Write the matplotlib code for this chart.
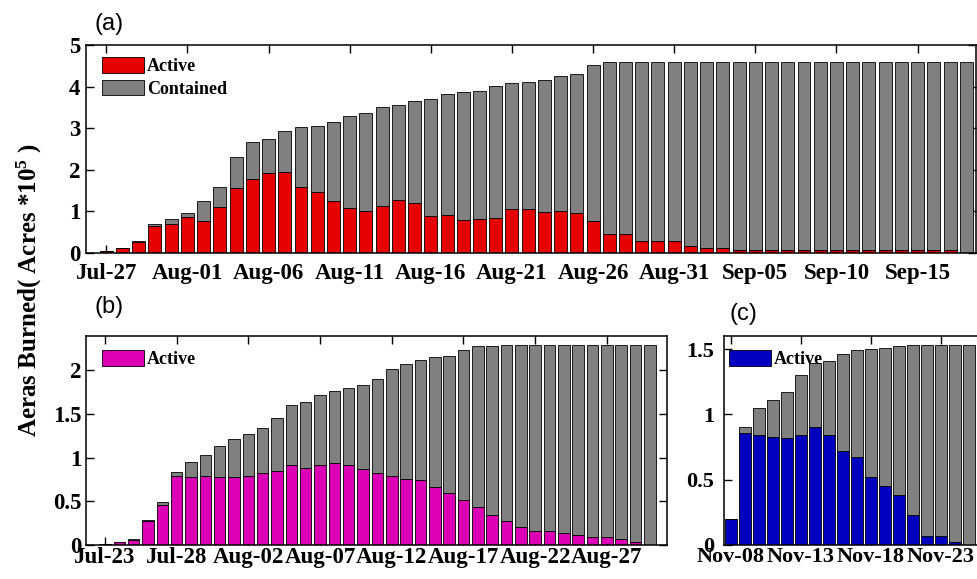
import numpy as np
import pandas as pd
import matplotlib
matplotlib.use("Agg")
import matplotlib.pyplot as plt
import matplotlib.dates as mdates

# ---------------------------------------------------------------------------
# Data (acres burned, x 10^5)
# ---------------------------------------------------------------------------
a_start = "2018-07-27"
a_total = [0.05, 0.13, 0.30, 0.70, 0.81, 0.95, 1.26, 1.58, 2.30, 2.66,
           2.74, 2.94, 3.02, 3.06, 3.14, 3.29, 3.37, 3.51, 3.56, 3.66,
           3.70, 3.82, 3.86, 3.90, 4.02, 4.09, 4.12, 4.17, 4.26, 4.30,
           4.53, 4.60, 4.60, 4.60, 4.60, 4.60, 4.60, 4.60, 4.60, 4.60,
           4.60, 4.60, 4.60, 4.60, 4.60, 4.60, 4.60, 4.60, 4.60, 4.60,
           4.60, 4.60, 4.60, 4.60]
a_active = [0.04, 0.12, 0.27, 0.66, 0.70, 0.86, 0.77, 1.11, 1.56, 1.79,
            1.92, 1.94, 1.59, 1.46, 1.25, 1.07, 1.01, 1.13, 1.27, 1.21,
            0.88, 0.92, 0.79, 0.82, 0.83, 1.06, 1.06, 0.99, 1.01, 0.95,
            0.76, 0.46, 0.46, 0.30, 0.30, 0.30, 0.18, 0.13, 0.13, 0.08,
            0.08, 0.08, 0.08, 0.08, 0.08, 0.08, 0.08, 0.08, 0.08, 0.08,
            0.08, 0.08, 0.08, 0.00]

b_start = "2018-07-23"
b_total = [0.01, 0.03, 0.07, 0.29, 0.49, 0.84, 0.95, 1.03, 1.13, 1.21,
           1.27, 1.34, 1.45, 1.60, 1.64, 1.72, 1.76, 1.79, 1.83, 1.90,
           2.01, 2.07, 2.11, 2.15, 2.16, 2.23, 2.27, 2.27, 2.29, 2.29,
           2.29, 2.29, 2.29, 2.29, 2.29, 2.29, 2.29, 2.29, 2.29]
b_active = [0.01, 0.03, 0.06, 0.27, 0.46, 0.79, 0.78, 0.79, 0.78, 0.78,
            0.79, 0.82, 0.85, 0.91, 0.88, 0.91, 0.94, 0.91, 0.87, 0.82,
            0.79, 0.76, 0.74, 0.66, 0.60, 0.52, 0.43, 0.34, 0.27, 0.21,
            0.16, 0.16, 0.14, 0.11, 0.09, 0.09, 0.065, 0.04, 0.00]

c_start = "2018-11-08"
c_total = [0.20, 0.90, 1.05, 1.11, 1.17, 1.30, 1.39, 1.41, 1.46, 1.49,
           1.50, 1.51, 1.52, 1.53, 1.53, 1.53, 1.53, 1.53, 1.53]
c_active = [0.20, 0.86, 0.84, 0.83, 0.82, 0.84, 0.90, 0.84, 0.72, 0.67,
            0.52, 0.45, 0.38, 0.23, 0.07, 0.07, 0.025, 0.00, 0.00]

# ---------------------------------------------------------------------------
# Style
# ---------------------------------------------------------------------------
RED = "#e60000"
MAGENTA = "#dc00b4"
BLUE = "#0000be"
GRAY = "#808080"

plt.rcParams["font.family"] = "Liberation Serif"
plt.rcParams["font.weight"] = "bold"
plt.rcParams["mathtext.fontset"] = "custom"
plt.rcParams["mathtext.rm"] = "Liberation Serif:bold"
plt.rcParams["mathtext.it"] = "Liberation Serif:bold"
plt.rcParams["mathtext.bf"] = "Liberation Serif:bold"

W, H = 977, 579
fig = plt.figure(figsize=(W / 100, H / 100), dpi=100)


def px_axes(l, r, t, b):
    return fig.add_axes([l / W, 1 - b / H, (r - l) / W, (b - t) / H])


def draw_panel(ax, start, total, active, color, names, ylim, xlim_days,
               yticks, xpad, ypad, lsize, leg_off):
    dates = pd.date_range(start, periods=len(total), freq="D")
    total = np.array(total)
    active = np.array(active)
    ax.bar(dates, active, width=0.8, color=color, edgecolor="black",
           linewidth=0.6, label=names[0], zorder=2)
    ax.bar(dates, total - active, bottom=active, width=0.8, color=GRAY,
           edgecolor="black", linewidth=0.6, label="Contained", zorder=2)
    t0 = pd.Timestamp(start)
    ax.set_xticks(pd.date_range(start, dates[-1], freq="5D"))
    ax.xaxis.set_major_formatter(mdates.DateFormatter("%b-%d"))
    ax.set_xlim(t0 + pd.Timedelta(days=xlim_days[0]),
                t0 + pd.Timedelta(days=xlim_days[1]))
    ax.set_ylim(*ylim)
    ax.set_yticks(yticks)
    ax.set_yticklabels([f"{v:g}" for v in yticks])
    ax.tick_params(direction="in", top=True, right=True, length=6, width=1,
                   labelsize=lsize)
    ax.tick_params(axis="x", pad=xpad)
    ax.tick_params(axis="y", pad=ypad)
    for s in ax.spines.values():
        s.set_linewidth(1.1)
        s.set_zorder(6)

    handles, labels = ax.get_legend_handles_labels()
    handles, labels = handles[:len(names)], labels[:len(names)]
    bb = ax.get_position()
    w_px, h_px = bb.width * W, bb.height * H
    ax.legend(handles, labels, loc="upper left", frameon=False,
              bbox_to_anchor=(leg_off[0] / w_px, 1 - leg_off[1] / h_px),
              fontsize=13, handlelength=2.3, handleheight=0.95,
              handletextpad=0.2, labelspacing=0.25, borderaxespad=0.0,
              borderpad=0.0)


ax_a = px_axes(86, 976, 45, 253)
draw_panel(ax_a, a_start, a_total, a_active, RED, ["Active", "Contained"],
           (0, 5), (-1.25, 53.6), [0, 1, 2, 3, 4, 5], 7, 4, 16.5, (16, 12))

ax_b = px_axes(86, 667, 336, 545)
draw_panel(ax_b, b_start, b_total, b_active, MAGENTA, ["Active"],
           (0, 2.39), (-1.33, 39.2), [0, 0.5, 1, 1.5, 2], 1.5, 3, 16.5,
           (16, 14))

ax_c = px_axes(724, 1004, 336, 545)
draw_panel(ax_c, c_start, c_total, c_active, BLUE, ["Active"],
           (0, 1.6), (-0.5, 19.5), [0, 0.5, 1, 1.5], 1.5, 7, 16,
           (5, 14))

# panel letters
for x, y, s in [(109, 24, "(a)"), (109, 307, "(b)"), (743, 314, "(c)")]:
    fig.text(x / W, 1 - y / H, s, fontsize=17, family="Liberation Sans",
             weight="normal", ha="center", va="center")

fig.text(29 / W, 1 - 290 / H, r"Aeras Burned( Acres *10$^{5}$ )",
         rotation=90, fontsize=18, ha="center", va="center")

fig.savefig("out.png", dpi=100)
